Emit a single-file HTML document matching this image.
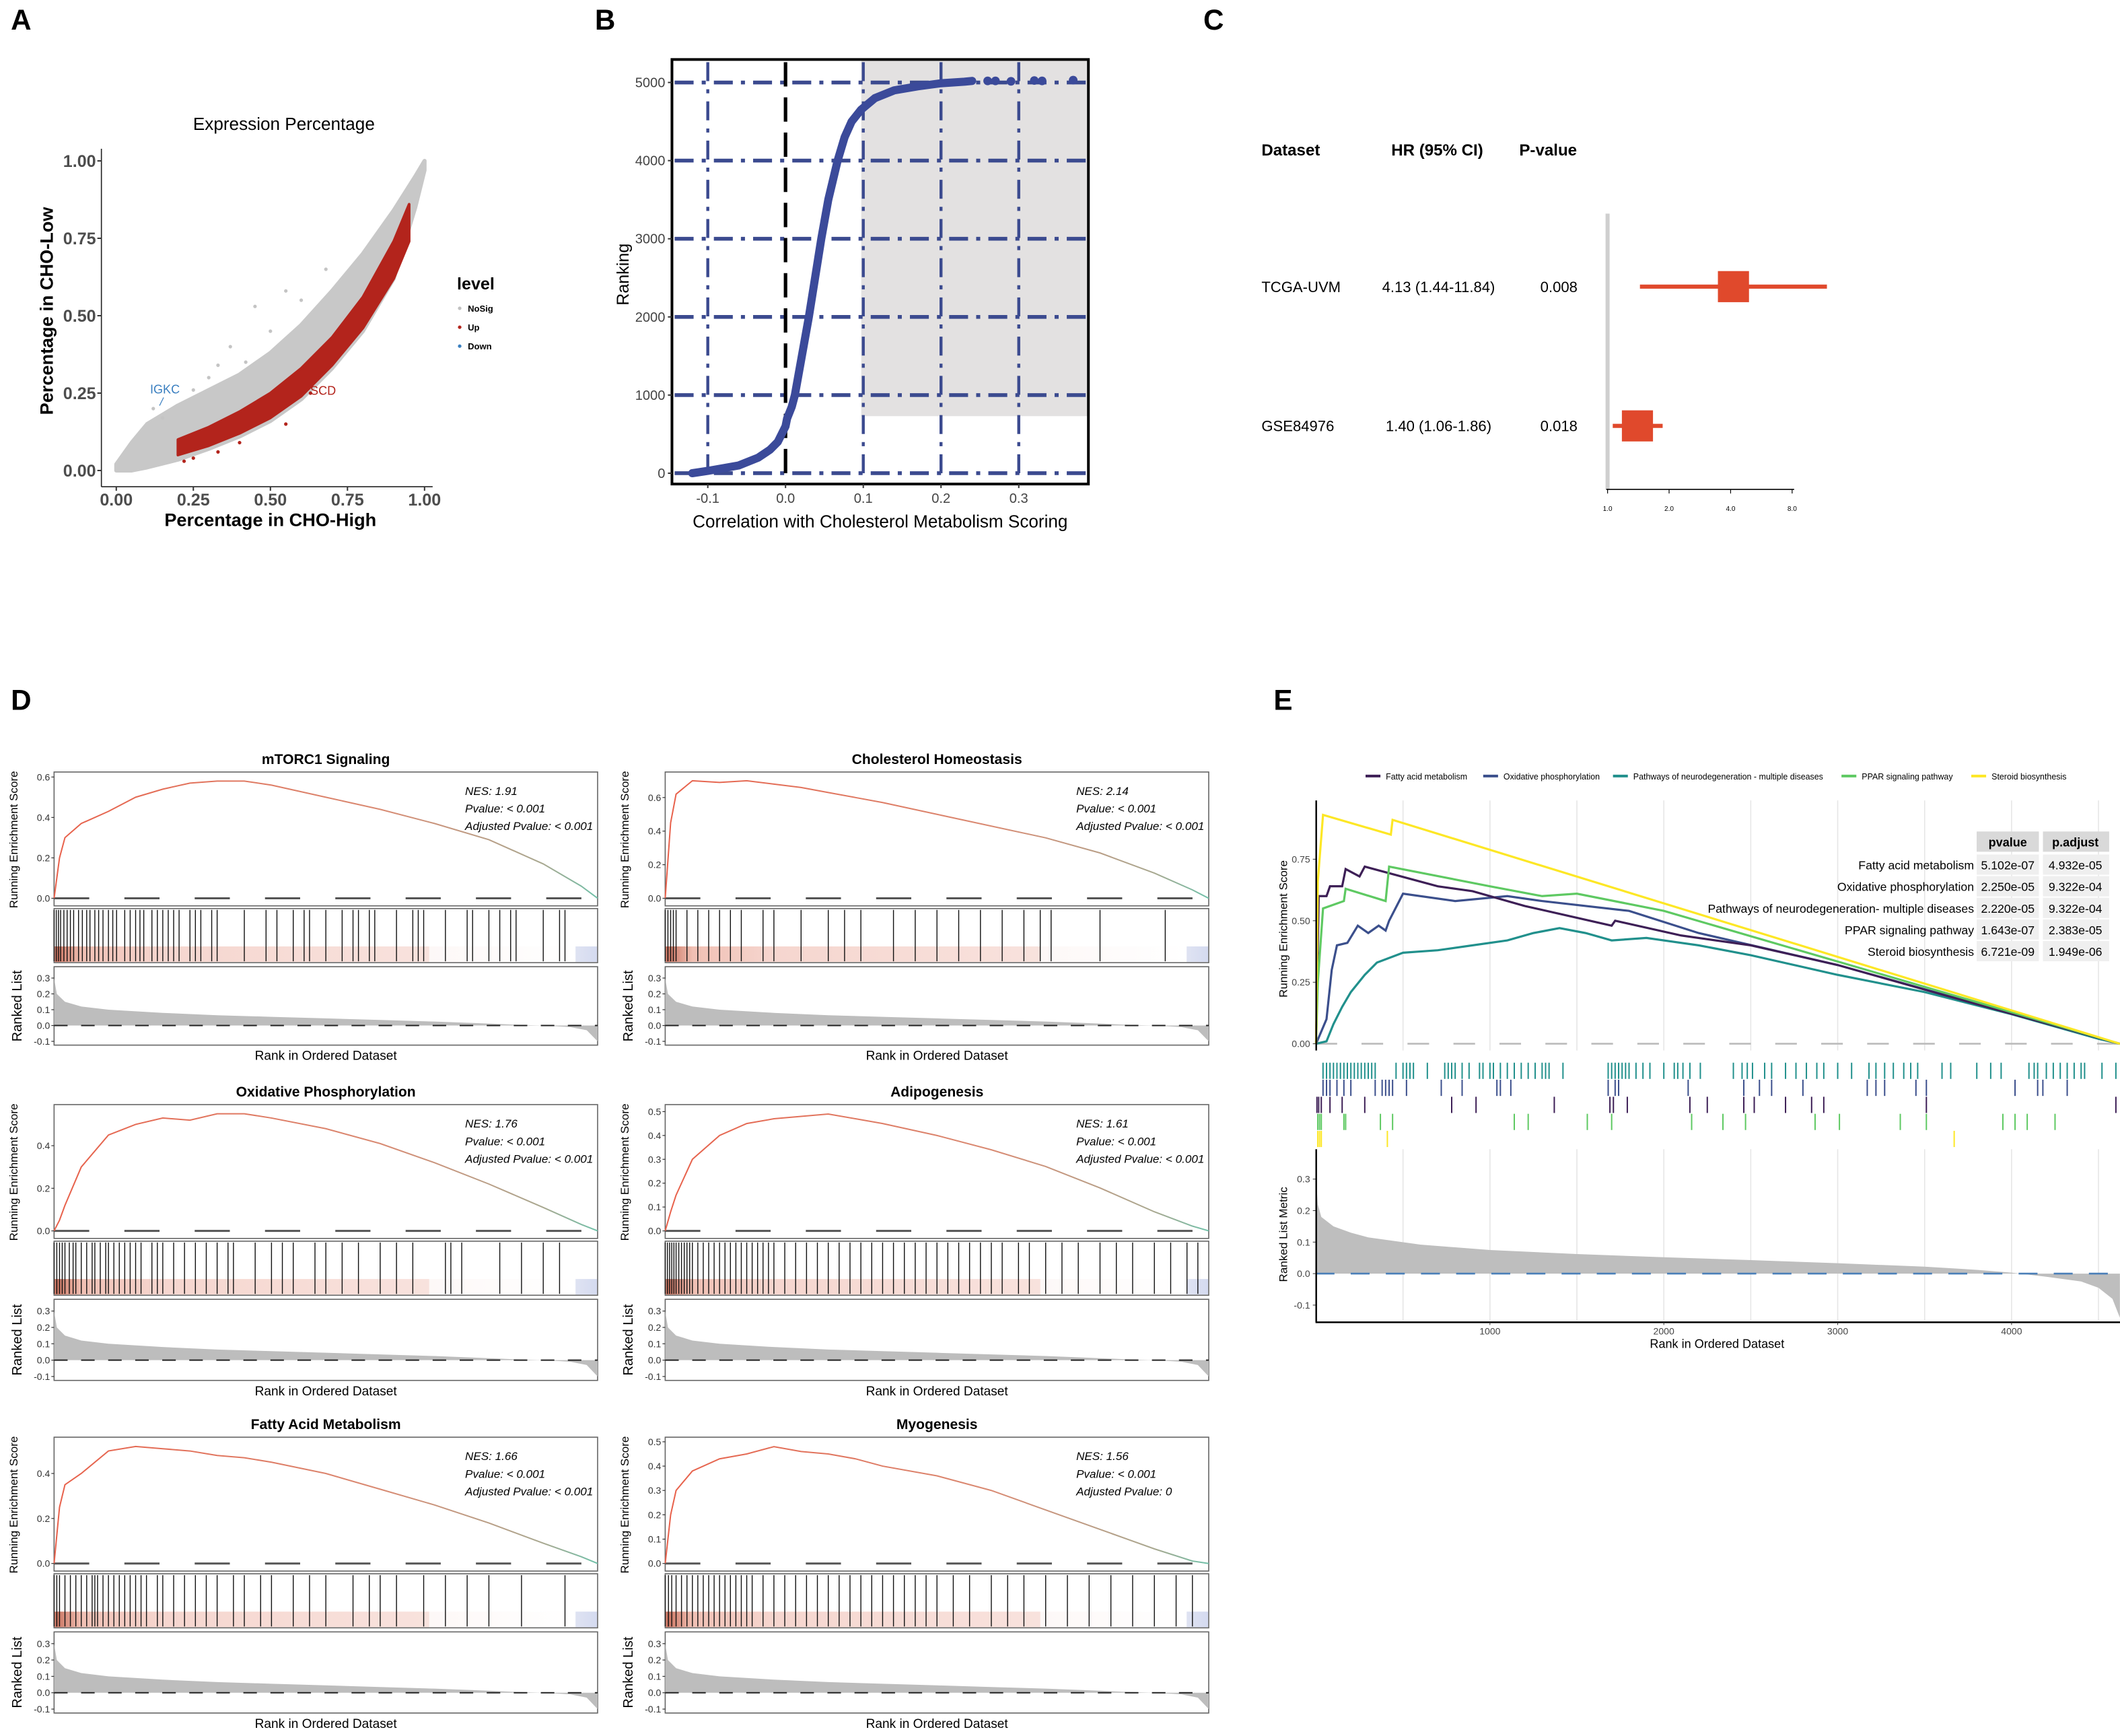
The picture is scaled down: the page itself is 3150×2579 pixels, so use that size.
<!DOCTYPE html>
<html><head><meta charset="utf-8">
<style>
html,body{margin:0;padding:0;background:#fff;}
svg{display:block;font-family:"Liberation Sans",Arial,sans-serif;}
</style></head>
<body>
<svg id="fig" xmlns="http://www.w3.org/2000/svg" width="3150" height="2579" viewBox="0 0 1568 1284" preserveAspectRatio="none">
<defs>
<linearGradient id="esgrad" x1="0" x2="1" y1="0" y2="0">
<stop offset="0" stop-color="#e8604a"/><stop offset="0.6" stop-color="#d98a72"/><stop offset="0.9" stop-color="#a8a890"/><stop offset="1" stop-color="#6fc0a8"/>
</linearGradient>
<linearGradient id="hitgrad" x1="0" x2="1" y1="0" y2="0">
<stop offset="0" stop-color="#c8705c"/><stop offset="0.05" stop-color="#f0c0b4"/><stop offset="0.2" stop-color="#f6d6cf"/><stop offset="0.69" stop-color="#f8e2dd"/><stop offset="0.691" stop-color="#fdf8f7"/><stop offset="0.96" stop-color="#ffffff"/><stop offset="0.961" stop-color="#dfe3f2"/><stop offset="1" stop-color="#d4daf0"/>
</linearGradient>
</defs>
</svg>
<script>
// ---------- Panel A data ----------
const aGrayX=[0,0.05,0.1,0.2,0.3,0.4,0.5,0.6,0.7,0.8,0.9,0.97,1.0];
const aGrayUpper=[0.02,0.09,0.15,0.21,0.26,0.31,0.38,0.47,0.58,0.7,0.84,0.95,1.0];
const aGrayLower=[0,0,0.01,0.035,0.07,0.11,0.16,0.23,0.33,0.45,0.62,0.85,0.97];
const aRedX=[0.2,0.3,0.4,0.5,0.6,0.7,0.8,0.9,0.95];
const aRedUpper=[0.1,0.14,0.19,0.25,0.33,0.43,0.56,0.74,0.86];
const aRedLower=[0.05,0.08,0.12,0.17,0.24,0.34,0.46,0.62,0.74];
const aGrayOutX=[0.45,0.55,0.68,0.37,0.3,0.15,0.25,0.42,0.6,0.5,0.33,0.12];
const aGrayOutY=[0.53,0.58,0.65,0.4,0.3,0.17,0.26,0.35,0.55,0.45,0.34,0.2];
const aRedOutX=[0.22,0.25,0.63,0.4,0.33,0.55];
const aRedOutY=[0.03,0.04,0.25,0.09,0.06,0.15];
const aTicks=[0,0.25,0.5,0.75,1.0];
// ---------- Panel B data ----------
const bRank=[0,30,100,200,300,400,500,600,700,850,1000,1500,2000,2500,3000,3500,4000,4300,4500,4650,4800,4900,4950,4990,5010,5020];
const bCorr=[-0.12,-0.1,-0.06,-0.035,-0.02,-0.01,-0.005,0,0.002,0.008,0.012,0.021,0.03,0.038,0.046,0.055,0.067,0.076,0.085,0.097,0.115,0.14,0.17,0.2,0.23,0.24];
const bDotX=[0.26,0.27,0.29,0.32,0.33,0.37];
const bDotY=[5020,5020,5015,5025,5020,5030];
const bXTicks=[-0.1,0,0.1,0.2,0.3];
const bYTicks=[0,1000,2000,3000,4000,5000];
// ---------- Panel C data ----------
const cNames=["TCGA-UVM","GSE84976"];
const cHR=[4.13,1.40];
const cLo=[1.44,1.06];
const cHi=[11.84,1.86];
const cHRText=["4.13 (1.44-11.84)","1.40 (1.06-1.86)"];
const cP=["0.008","0.018"];
const cTicks=[1,2,4,8];
// ---------- Panel D data ----------
const dTitles=["mTORC1 Signaling","Cholesterol Homeostasis","Oxidative Phosphorylation","Adipogenesis","Fatty Acid Metabolism","Myogenesis"];
const dNES=["1.91","2.14","1.76","1.61","1.66","1.56"];
const dAdj=["< 0.001","< 0.001","< 0.001","< 0.001","< 0.001","0"];
const dFrac=[0,0.01,0.02,0.05,0.1,0.15,0.2,0.25,0.3,0.35,0.4,0.5,0.6,0.7,0.8,0.9,0.97,1.0];
const dES1=[0,0.2,0.3,0.37,0.43,0.5,0.54,0.57,0.58,0.58,0.56,0.5,0.44,0.37,0.29,0.17,0.06,0];
const dES2=[0,0.45,0.62,0.7,0.69,0.7,0.68,0.66,0.63,0.6,0.57,0.5,0.43,0.36,0.27,0.15,0.05,0];
const dES3=[0,0.05,0.12,0.3,0.45,0.5,0.53,0.52,0.55,0.55,0.53,0.48,0.41,0.32,0.22,0.11,0.03,0];
const dES4=[0,0.08,0.15,0.3,0.4,0.45,0.47,0.48,0.49,0.47,0.45,0.4,0.34,0.27,0.18,0.08,0.02,0];
const dES5=[0,0.25,0.35,0.4,0.5,0.52,0.51,0.5,0.48,0.47,0.45,0.4,0.33,0.26,0.18,0.09,0.03,0];
const dES6=[0,0.2,0.3,0.38,0.43,0.45,0.48,0.46,0.45,0.43,0.4,0.36,0.3,0.22,0.14,0.06,0.01,0];
const dTicks1=[0,0.2,0.4,0.6];
const dTicks2=[0,0.2,0.4,0.6];
const dTicks3=[0,0.2,0.4];
const dTicks4=[0,0.1,0.2,0.3,0.4,0.5];
const dTicks5=[0,0.2,0.4];
const dTicks6=[0,0.1,0.2,0.3,0.4,0.5];
const dHits1=[0,0.004,0.008,0.012,0.018,0.024,0.03,0.036,0.045,0.052,0.06,0.066,0.075,0.082,0.09,0.1,0.108,0.115,0.13,0.14,0.15,0.158,0.165,0.18,0.19,0.2,0.21,0.22,0.23,0.25,0.26,0.27,0.29,0.3,0.35,0.39,0.41,0.44,0.46,0.47,0.5,0.53,0.55,0.56,0.58,0.59,0.63,0.66,0.67,0.68,0.72,0.76,0.77,0.8,0.82,0.84,0.85,0.9,0.93,0.94];
const dHits2=[0,0.005,0.01,0.015,0.02,0.04,0.06,0.08,0.1,0.12,0.14,0.18,0.2,0.25,0.3,0.33,0.36,0.42,0.46,0.5,0.54,0.58,0.62,0.66,0.69,0.71,0.8,0.92];
const dHits3=[0,0.005,0.01,0.015,0.02,0.028,0.035,0.04,0.05,0.06,0.07,0.075,0.085,0.095,0.1,0.11,0.12,0.13,0.14,0.15,0.16,0.18,0.19,0.2,0.22,0.24,0.26,0.28,0.3,0.32,0.33,0.37,0.4,0.42,0.44,0.48,0.5,0.53,0.56,0.6,0.63,0.66,0.72,0.73,0.75,0.82,0.86,0.9,0.93];
const dHits4=[0,0.004,0.008,0.012,0.016,0.02,0.025,0.03,0.035,0.04,0.045,0.05,0.06,0.07,0.08,0.09,0.1,0.11,0.12,0.13,0.14,0.15,0.16,0.17,0.18,0.19,0.2,0.22,0.24,0.26,0.28,0.3,0.32,0.34,0.36,0.38,0.4,0.42,0.44,0.46,0.48,0.5,0.52,0.54,0.56,0.58,0.6,0.62,0.65,0.67,0.7,0.73,0.76,0.8,0.83,0.86,0.9,0.93,0.96,0.98];
const dHits5=[0,0.005,0.01,0.02,0.03,0.04,0.05,0.06,0.07,0.075,0.08,0.09,0.1,0.11,0.12,0.13,0.14,0.15,0.16,0.17,0.19,0.2,0.22,0.24,0.26,0.28,0.3,0.33,0.35,0.38,0.4,0.44,0.47,0.5,0.55,0.58,0.6,0.63,0.68,0.72,0.76,0.8,0.86,0.94];
const dHits6=[0,0.006,0.012,0.02,0.03,0.04,0.05,0.06,0.07,0.08,0.09,0.1,0.11,0.12,0.13,0.14,0.15,0.16,0.18,0.2,0.22,0.24,0.26,0.28,0.3,0.32,0.34,0.36,0.38,0.4,0.42,0.44,0.46,0.48,0.5,0.53,0.56,0.6,0.63,0.66,0.7,0.74,0.78,0.82,0.86,0.9,0.94,0.97];
const dRankFrac=[0,0.005,0.02,0.05,0.1,0.2,0.3,0.4,0.5,0.6,0.7,0.8,0.85,0.9,0.95,0.98,1];
const dRankVal=[0.3,0.2,0.15,0.12,0.1,0.08,0.065,0.055,0.045,0.035,0.025,0.012,0.005,0,-0.01,-0.03,-0.1];
const dRankTicks=[0.3,0.2,0.1,0.0,-0.1];
// ---------- Panel E data ----------
const eNames=["Fatty acid metabolism","Oxidative phosphorylation","Pathways of neurodegeneration - multiple diseases","PPAR signaling pathway","Steroid biosynthesis"];
const eTableNames=["Fatty acid metabolism","Oxidative phosphorylation","Pathways of neurodegeneration- multiple diseases","PPAR signaling pathway","Steroid biosynthesis"];
const ePval=["5.102e-07","2.250e-05","2.220e-05","1.643e-07","6.721e-09"];
const ePadj=["4.932e-05","9.322e-04","9.322e-04","2.383e-05","1.949e-06"];
const eRank1=[0,15,60,80,150,170,250,280,700,900,1200,1700,1720,2100,2500,3000,3600,4623];
const eES1=[0,0.6,0.6,0.64,0.64,0.71,0.68,0.72,0.64,0.62,0.56,0.48,0.5,0.44,0.4,0.32,0.2,0];
const eRank2=[0,60,90,120,180,240,300,360,400,420,500,800,1100,1300,1800,2200,3000,4623];
const eES2=[0,0.1,0.3,0.4,0.41,0.48,0.45,0.48,0.46,0.5,0.61,0.58,0.6,0.58,0.54,0.45,0.32,0];
const eRank3=[0,60,100,150,200,280,350,500,700,900,1100,1250,1400,1550,1700,1900,2200,2500,3000,3500,4000,4500,4623];
const eES3=[0,0.01,0.08,0.15,0.21,0.28,0.33,0.37,0.38,0.4,0.42,0.45,0.47,0.45,0.42,0.43,0.4,0.36,0.28,0.21,0.12,0.02,0];
const eRank4=[0,10,40,160,170,400,420,1000,1300,1500,2000,4623];
const eES4=[0,0.25,0.55,0.58,0.63,0.58,0.72,0.64,0.6,0.61,0.54,0];
const eRank5=[0,10,40,430,440,4623];
const eES5=[0,0.66,0.93,0.85,0.91,0];
const eHits1=[5,15,30,80,150,280,780,920,1370,1690,1710,1790,2150,2250,2460,2520,2700,2850,2920,3510,4600];
const eHits2=[40,60,80,120,160,200,340,380,400,420,440,520,720,840,1040,1060,1120,1680,1720,1740,2140,2460,2550,2620,2800,3170,3220,3270,3450,3510,4020,4150,4180,4320];
const eHits3=[40,60,80,100,120,140,160,180,200,220,240,260,280,300,320,340,460,500,520,540,560,640,740,760,780,800,840,880,940,960,1000,1020,1060,1100,1140,1180,1220,1260,1300,1320,1340,1420,1680,1700,1720,1740,1760,1780,1800,1840,1880,1920,2000,2060,2080,2110,2150,2210,2400,2450,2480,2510,2580,2620,2700,2760,2820,2880,2920,3000,3080,3180,3220,3270,3320,3380,3420,3460,3600,3650,3800,3880,3940,4100,4130,4150,4200,4240,4280,4320,4360,4400,4420,4520,4600];
const eHits4=[10,20,30,160,170,370,440,1140,1220,1560,1700,2160,2340,2470,2870,3010,3360,3510,3950,4020,4090,4250];
const eHits5=[10,20,30,410,3670];
const eMetricRank=[0,10,30,100,200,300,600,1000,1500,2000,2500,3000,3500,3800,4000,4200,4400,4500,4580,4623];
const eMetricVal=[0.3,0.22,0.18,0.15,0.13,0.115,0.092,0.075,0.062,0.052,0.043,0.033,0.022,0.012,0.003,-0.01,-0.025,-0.045,-0.08,-0.14];
const eXTicks=[1000,2000,3000,4000];
const eESTicks=[0,0.25,0.5,0.75];
const eMetricTicks=[-0.1,0,0.1,0.2,0.3];
const eColors=["#3d1f56","#3b4f8c","#21908c","#5ec962","#fde725"];

const NS='http://www.w3.org/2000/svg';
const svg=document.getElementById('fig');
function mk(tag,attrs,parent,txt){const e=document.createElementNS(NS,tag);for(const k in attrs)e.setAttribute(k,attrs[k]);if(txt!==undefined)e.textContent=txt;(parent||svg).appendChild(e);return e;}
function g(name){const e=mk('g',{});


return e;}
function txt(p,x,y,s,size,opts,name){opts=opts||{};const a={x:x,y:y,'font-size':size,fill:opts.fill||'#000'};if(opts.anchor)a['text-anchor']=opts.anchor;if(opts.weight)a['font-weight']=opts.weight;if(opts.style)a['font-style']=opts.style;if(opts.rot)a.transform='rotate(-90 '+x+' '+y+')';const t=mk('text',a,p,s);


return t;}
function fmt2(v){return v.toFixed(2);}

[["A",8,22],["B",440,22],["C",890,22],["D",8,525],["E",942,525]].forEach(function(l){
txt(svg,l[1],l[2],l[0],21,{weight:'bold'},'panel-label-'+l[0].toLowerCase());});

// ===== Panel A =====
(function(){
const p=g('panel-a-scatter');
const ax=v=>86+v*228, ay=v=>348-v*229;
txt(p,210,96,'Expression Percentage',13,{anchor:'middle'},'plot-title');
let pts=aGrayX.map((x,i)=>ax(x)+','+ay(aGrayUpper[i])).concat(aGrayX.slice().reverse().map((x,i)=>ax(x)+','+ay(aGrayLower[aGrayX.length-1-i])));
const gp=mk('polygon',{points:pts.join(' '),fill:'#c8c8c8',stroke:'#c8c8c8','stroke-width':3,'stroke-linejoin':'round'},p);


aGrayOutX.forEach((x,i)=>{const c=mk('circle',{cx:ax(x),cy:ay(aGrayOutY[i]),r:1.3,fill:'#c4c4c4'},p);

});
pts=aRedX.map((x,i)=>ax(x)+','+ay(aRedUpper[i])).concat(aRedX.slice().reverse().map((x,i)=>ax(x)+','+ay(aRedLower[aRedX.length-1-i])));
const rp=mk('polygon',{points:pts.join(' '),fill:'#b3241c',stroke:'#b3241c','stroke-width':2,'stroke-linejoin':'round'},p);


aRedOutX.forEach((x,i)=>{const c=mk('circle',{cx:ax(x),cy:ay(aRedOutY[i]),r:1.3,fill:'#b3241c'},p);

});
mk('line',{x1:75,y1:110,x2:75,y2:360,stroke:'#222','stroke-width':0.8},p);
mk('line',{x1:75,y1:360,x2:320,y2:360,stroke:'#222','stroke-width':0.8},p);
aTicks.forEach(v=>{mk('line',{x1:72,x2:75,y1:ay(v),y2:ay(v),stroke:'#333'},p);
txt(p,71,ay(v)+4.5,fmt2(v),12.5,{anchor:'end',fill:'#4d4d4d',weight:'bold'},'y-tick-label');
mk('line',{x1:ax(v),x2:ax(v),y1:360,y2:363,stroke:'#333'},p);
txt(p,ax(v),374,fmt2(v),12.5,{anchor:'middle',fill:'#4d4d4d',weight:'bold'},'x-tick-label');});
txt(p,200,389,'Percentage in CHO-High',13.5,{anchor:'middle',weight:'bold'},'x-axis-title');
txt(p,39,230,'Percentage in CHO-Low',13.5,{anchor:'middle',weight:'bold',rot:true},'y-axis-title');
txt(p,338,214,'level',12.5,{weight:'bold'},'legend-title');
[['NoSig','#c0c0c0',229],['Up','#b3241c',243],['Down','#3a7fc0',257]].forEach(e=>{
const c=mk('circle',{cx:340,cy:e[2]-1,r:1.3,fill:e[1]},p);


txt(p,346,e[2]+1.5,e[0],6.5,{weight:'bold'},'legend-entry');});
txt(p,122,291,'IGKC',9,{anchor:'middle',fill:'#3a7fc0'},'gene-label-igkc');
mk('line',{x1:121,y1:294,x2:118,y2:300,stroke:'#3a7fc0','stroke-width':0.6},p);
txt(p,239,292,'SCD',9,{anchor:'middle',fill:'#b3241c'},'gene-label-scd');
})();

// ===== Panel B =====
(function(){
const p=g('panel-b-ranking');
const bx=v=>581+v*575, by=r=>350-r*0.0578;
const bg=mk('rect',{x:637,y:44,width:168,height:by(730)-44,fill:'#e3e1e1'},p);


const dash='14,6,3,6';
bYTicks.forEach(r=>{mk('line',{x1:499,x2:803,y1:by(r),y2:by(r),stroke:'#3b4a8f','stroke-width':2.8,'stroke-dasharray':dash},p);});
[-0.1,0.1,0.2,0.3].forEach(v=>{mk('line',{x1:bx(v),x2:bx(v),y1:46,y2:356,stroke:'#3b4a8f','stroke-width':2.2,'stroke-dasharray':dash},p);});
mk('line',{x1:bx(0),x2:bx(0),y1:46,y2:356,stroke:'#000','stroke-width':2.6,'stroke-dasharray':'18,8'},p);
const curve=mk('polyline',{points:bRank.map((r,i)=>bx(bCorr[i])+','+by(r)).join(' '),fill:'none',stroke:'#3b4a9a','stroke-width':6,'stroke-linejoin':'round','stroke-linecap':'round'},p);


bDotX.forEach((v,i)=>{const c=mk('circle',{cx:bx(v),cy:by(bDotY[i]),r:3.2,fill:'#3b4a9a'},p);

});
mk('rect',{x:497,y:44,width:308,height:314,fill:'none',stroke:'#000','stroke-width':2},p);
bYTicks.forEach(r=>{mk('line',{x1:494,x2:497,y1:by(r),y2:by(r),stroke:'#333'},p);
txt(p,492,by(r)+3.5,String(r),10,{anchor:'end',fill:'#444'},'y-tick-label');});
bXTicks.forEach(v=>{mk('line',{x1:bx(v),x2:bx(v),y1:358,y2:361,stroke:'#333'},p);
txt(p,bx(v),372,v===0?'0.0':String(v),10,{anchor:'middle',fill:'#444'},'x-tick-label');});
txt(p,651,390,'Correlation with Cholesterol Metabolism Scoring',13,{anchor:'middle'},'x-axis-title');
txt(p,465,203,'Ranking',12.5,{anchor:'middle',rot:true},'y-axis-title');
})();

// ===== Panel C =====
(function(){
const p=g('panel-c-forest');
const cx=v=>1189+45.5*Math.log2(v);
txt(p,933,115,'Dataset',12,{weight:'bold'},'col-header-dataset');
txt(p,1063,115,'HR (95% CI)',12,{weight:'bold',anchor:'middle'},'col-header-hr');
txt(p,1145,115,'P-value',12,{weight:'bold',anchor:'middle'},'col-header-pvalue');
mk('line',{x1:1189,x2:1189,y1:158,y2:362,stroke:'#cfcfcf','stroke-width':3},p);
const rowY=[212,315];
cNames.forEach((n,i)=>{const y=rowY[i];
txt(p,933,y+4,n,11,{},'dataset-name');
txt(p,1064,y+4,cHRText[i],11,{anchor:'middle'},'hr-value');
txt(p,1153,y+4,cP[i],11,{anchor:'middle'},'p-value');
mk('line',{x1:cx(cLo[i]),x2:cx(cHi[i]),y1:y,y2:y,stroke:'#e0492c','stroke-width':3},p);
const b=mk('rect',{x:cx(cHR[i])-11.5,y:y-11.5,width:23,height:23,fill:'#e0492c'},p);

});
mk('line',{x1:1188,x2:1327,y1:362,y2:362,stroke:'#000','stroke-width':0.8},p);
cTicks.forEach(v=>{mk('line',{x1:cx(v),x2:cx(v),y1:362,y2:365,stroke:'#000','stroke-width':0.6},p);
txt(p,cx(v),378,v.toFixed(1),5,{anchor:'middle'},'x-tick-label');});
})();

// ===== Panel D =====
(function(){
const esArr=[dES1,dES2,dES3,dES4,dES5,dES6];
const tickArr=[dTicks1,dTicks2,dTicks3,dTicks4,dTicks5,dTicks6];
const hitArr=[dHits1,dHits2,dHits3,dHits4,dHits5,dHits6];
const cols=[40,492], tops=[571,817,1063], W=402;
for(let k=0;k<6;k++){
const x0=cols[k%2], t=tops[Math.floor(k/2)];
const p=g('gsea-plot-'+(k+1));
const es=esArr[k];const peak=Math.max.apply(null,es);
const ymax=peak*1.06+0.01, ymin=-0.06*ymax;
const ey=v=>t+99-(v-ymin)/(ymax-ymin)*99;
const fx=f=>x0+f*W;
txt(p,x0+W/2,t-6,dTitles[k],10.5,{anchor:'middle',weight:'bold'},'gsea-title');
mk('rect',{x:x0,y:t,width:W,height:99,fill:'#fff',stroke:'#666','stroke-width':0.8},p);
mk('line',{x1:x0,x2:x0+W,y1:ey(0),y2:ey(0),stroke:'#555','stroke-width':1.5,'stroke-dasharray':'26,26'},p);
const ln=mk('polyline',{points:es.map((v,i)=>fx(dFrac[i])+','+ey(v)).join(' '),fill:'none',stroke:'url(#esgrad)','stroke-width':1},p);


tickArr[k].forEach(v=>{mk('line',{x1:x0-2,x2:x0,y1:ey(v),y2:ey(v),stroke:'#333','stroke-width':0.6},p);
txt(p,x0-3,ey(v)+2.5,v===0?'0.0':String(v),7,{anchor:'end',fill:'#333'},'y-tick-label');});
txt(p,x0+W-98,t+17,'NES: '+dNES[k],8.5,{style:'italic'},'nes-text');
txt(p,x0+W-98,t+30,'Pvalue: < 0.001',8.5,{style:'italic'},'pvalue-text');
txt(p,x0+W-98,t+43,'Adjusted Pvalue: '+dAdj[k],8.5,{style:'italic'},'adj-pvalue-text');
txt(p,x0-27,t+50,'Running Enrichment Score',8.5,{anchor:'middle',rot:true},'y-axis-title');
const ht=t+101;
mk('rect',{x:x0,y:ht,width:W,height:40,fill:'#fff',stroke:'#666','stroke-width':0.8},p);
mk('rect',{x:x0+0.5,y:ht+28,width:W-1,height:11.5,fill:'url(#hitgrad)'},p);
hitArr[k].forEach(f=>{const l=mk('line',{x1:fx(f),x2:fx(f),y1:ht+1,y2:ht+39,stroke:'#111','stroke-width':0.7},p);

});
const rt=t+144, rh=Math.floor(k/2)===0?58:60;
const ry=v=>rt+rh*0.75-v*117*(rh/58);
mk('rect',{x:x0,y:rt,width:W,height:rh,fill:'#fff',stroke:'#666','stroke-width':0.8},p);
const area=mk('polygon',{points:[fx(0)+','+ry(0)].concat(dRankFrac.map((f,i)=>fx(f)+','+ry(dRankVal[i]))).concat([fx(1)+','+ry(0)]).join(' '),fill:'#bdbdbd'},p);


mk('line',{x1:x0,x2:x0+W,y1:ry(0),y2:ry(0),stroke:'#222','stroke-width':1,'stroke-dasharray':'10,10'},p);
dRankTicks.forEach(v=>{mk('line',{x1:x0-2,x2:x0,y1:ry(v),y2:ry(v),stroke:'#333','stroke-width':0.6},p);
txt(p,x0-3,ry(v)+2.5,v===0?'0.0':String(v),7,{anchor:'end',fill:'#333'},'y-tick-label');});
txt(p,x0-24,rt+rh/2,'Ranked List',10,{anchor:'middle',rot:true},'y-axis-title');
txt(p,x0+W/2,rt+rh+11,'Rank in Ordered Dataset',9.5,{anchor:'middle'},'x-axis-title');
}
})();

// ===== Panel E =====
(function(){
const p=g('panel-e-multi-gsea');
const ex=r=>973.4+r*0.1286, ey=v=>772-v*182, my=v=>942-v*233;
const lx=[1010,1097,1193,1362,1458];
eNames.forEach((n,i)=>{mk('line',{x1:lx[i],x2:lx[i]+11,y1:574,y2:574,stroke:eColors[i],'stroke-width':2},p);
txt(p,lx[i]+15,576.5,n,6.2,{},'legend-entry');});
for(let r=500;r<=4500;r+=500){mk('line',{x1:ex(r),x2:ex(r),y1:592,y2:777,stroke:'#e6e6e6','stroke-width':0.8},p);
mk('line',{x1:ex(r),x2:ex(r),y1:850,y2:977,stroke:'#e6e6e6','stroke-width':0.8},p);}
mk('line',{x1:973,x2:1568,y1:ey(0),y2:ey(0),stroke:'#bbb','stroke-width':1.3,'stroke-dasharray':'16,18'},p);
const rk=[eRank1,eRank2,eRank3,eRank4,eRank5], vs=[eES1,eES2,eES3,eES4,eES5];
[2,1,0,3,4].forEach(i=>{const l=mk('polyline',{points:rk[i].map((r,j)=>ex(r)+','+ey(vs[i][j])).join(' '),fill:'none',stroke:eColors[i],'stroke-width':1.6},p);

});
mk('line',{x1:973.5,x2:973.5,y1:592,y2:777,stroke:'#000','stroke-width':1.2},p);
eESTicks.forEach(v=>{mk('line',{x1:971,x2:973,y1:ey(v),y2:ey(v),stroke:'#333','stroke-width':0.5},p);
txt(p,969,ey(v)+2.5,fmt2(v),7,{anchor:'end',fill:'#444'},'y-tick-label');});
txt(p,952,687,'Running Enrichment Score',8.5,{anchor:'middle',rot:true},'y-axis-title');
const tb=g('pvalue-table');
mk('rect',{x:1462,y:615,width:46,height:15,fill:'#d9d9d9'},tb);
mk('rect',{x:1511,y:615,width:49,height:15,fill:'#d9d9d9'},tb);
txt(tb,1485,626,'pvalue',9,{anchor:'middle',weight:'bold'},'table-header');
txt(tb,1535,626,'p.adjust',9,{anchor:'middle',weight:'bold'},'table-header');
eTableNames.forEach((n,i)=>{const y=632+i*16;
mk('rect',{x:1462,y:y,width:46,height:15,fill:'#efefef'},tb);
mk('rect',{x:1511,y:y,width:49,height:15,fill:'#efefef'},tb);
txt(tb,1460,y+11,n,8.8,{anchor:'end'},'table-row-label');
txt(tb,1485,y+11,ePval[i],8.8,{anchor:'middle'},'table-pvalue');
txt(tb,1535,y+11,ePadj[i],8.8,{anchor:'middle'},'table-padjust');});
const hr=[eHits3,eHits2,eHits1,eHits4,eHits5], hc=[eColors[2],eColors[1],eColors[0],eColors[3],eColors[4]];
hr.forEach((arr,i)=>{const y0=786+i*12.6;
arr.forEach(r=>{const l=mk('line',{x1:ex(r),x2:ex(r),y1:y0,y2:y0+12,stroke:hc[i],'stroke-width':1},p);

});});
const area=mk('polygon',{points:[ex(0)+','+my(0)].concat(eMetricRank.map((r,i)=>ex(r)+','+my(eMetricVal[i]))).concat([ex(4623)+','+my(0)]).join(' '),fill:'#bebebe'},p);


mk('line',{x1:973,x2:1568,y1:my(0),y2:my(0),stroke:'#4a7fb8','stroke-width':1.3,'stroke-dasharray':'14,12'},p);
mk('line',{x1:973.5,x2:973.5,y1:850,y2:978,stroke:'#000','stroke-width':1.2},p);
mk('line',{x1:973,x2:1568,y1:978,y2:978,stroke:'#000','stroke-width':1.2},p);
eMetricTicks.forEach(v=>{mk('line',{x1:971,x2:973,y1:my(v),y2:my(v),stroke:'#333','stroke-width':0.5},p);
txt(p,969,my(v)+2.5,v===0?'0.0':String(v),7,{anchor:'end',fill:'#444'},'y-tick-label');});
eXTicks.forEach(r=>{mk('line',{x1:ex(r),x2:ex(r),y1:978,y2:980,stroke:'#333','stroke-width':0.5},p);
txt(p,ex(r),987,String(r),7,{anchor:'middle',fill:'#444'},'x-tick-label');});
txt(p,952,913,'Ranked List Metric',8.5,{anchor:'middle',rot:true},'y-axis-title');
txt(p,1270,997,'Rank in Ordered Dataset',9,{anchor:'middle'},'x-axis-title');
})();
</script>
</body></html>
